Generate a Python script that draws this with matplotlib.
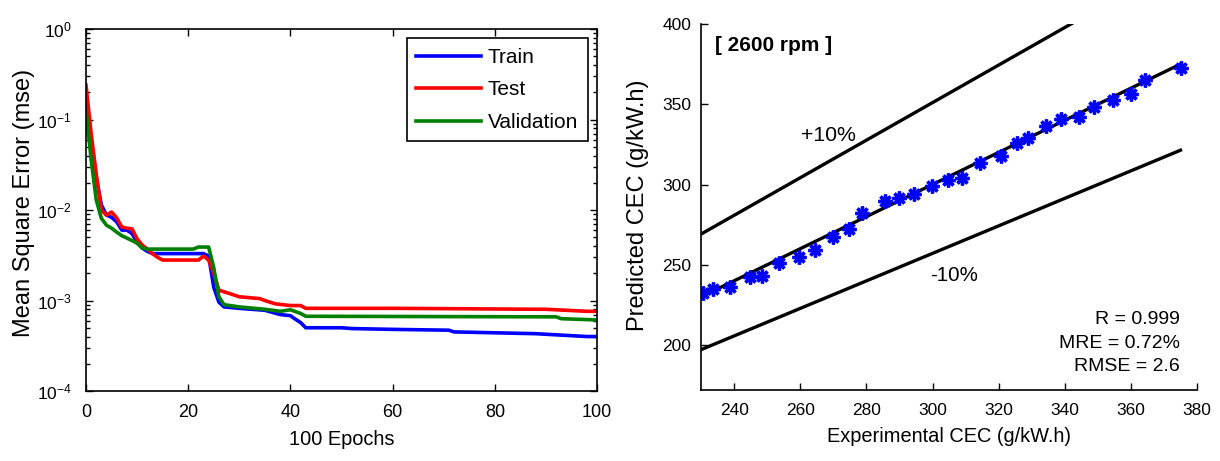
import matplotlib
matplotlib.use('Agg')
import matplotlib.pyplot as plt
import numpy as np

# training performance curves
train_epochs = [0, 1, 2, 3, 4, 5, 6, 7, 8, 9, 10, 11, 12, 13, 23, 24, 25, 26, 27, 30, 35, 38, 40, 41, 42, 43, 50, 52, 60, 71, 72, 80, 88, 98, 100]
train_mse = [0.2, 0.06, 0.023, 0.0114, 0.0088, 0.0083, 0.0074, 0.006, 0.006, 0.0055, 0.0044, 0.0038, 0.0035, 0.0033, 0.0033, 0.0031,
             0.0014, 0.00096, 0.00085, 0.00082, 0.00078, 0.0007, 0.00068, 0.00062, 0.00057, 0.0005, 0.0005, 0.00049, 0.00048,
             0.00047, 0.00045, 0.00044, 0.00043, 0.0004, 0.0004]

test_epochs = [0, 1, 2, 3, 4, 5, 6, 7, 8, 9, 10, 11, 12, 13, 14, 15, 22, 23, 24, 25, 26, 28, 30, 34, 35, 37, 40, 42, 43, 60, 90, 98, 100]
test_mse = [0.24, 0.07, 0.025, 0.01, 0.0088, 0.0095, 0.0082, 0.0065, 0.0063, 0.0062, 0.0048, 0.0041, 0.0037, 0.0033, 0.003,
            0.0028, 0.0028, 0.0031, 0.0028, 0.002, 0.0013, 0.0012, 0.0011, 0.00105, 0.001, 0.00092, 0.00088, 0.00088, 0.00082,
            0.00082, 0.0008, 0.00076, 0.00076]

val_epochs = [0, 1, 2, 3, 4, 5, 6, 7, 8, 9, 10, 11, 12, 21, 22, 24, 25, 26, 27, 30, 35, 38, 40, 42, 43, 92, 93, 100]
val_mse = [0.13, 0.036, 0.013, 0.0081, 0.0068, 0.0063, 0.0057, 0.0052, 0.0049, 0.0046, 0.0043, 0.0038, 0.0037, 0.0037, 0.0039,
           0.0039, 0.0023, 0.0011, 0.0009, 0.00085, 0.0008, 0.00076, 0.00079, 0.00072, 0.00067, 0.00066, 0.00063, 0.00061]

# experimental vs predicted CEC at 2600 rpm
exp_cec = [230.6, 233.6, 238.8, 244.8, 248.5, 253.6, 259.7, 264.5, 270.0, 274.8, 278.8, 285.5, 290.0, 294.5, 299.7,
           304.8, 308.8, 314.5, 320.6, 325.5, 329.0, 334.2, 339.0, 344.2, 348.8, 354.5, 360.0, 364.2, 375.2]
pred_cec = [232.5, 235.0, 236.2, 242.4, 243.0, 251.0, 254.8, 259.0, 267.2, 272.1, 282.0, 290.0, 291.3, 294.4, 298.8,
            303.1, 304.3, 313.6, 318.0, 326.0, 329.1, 336.5, 340.9, 342.0, 348.3, 352.6, 356.3, 365.0, 372.4]
line_x = [230, 375]
upper_ratio = 1.17
lower_ratio = 0.857
stats_text = 'R = 0.999\nMRE = 0.72%\nRMSE = 2.6'

plt.rcParams['font.family'] = ['Liberation Sans', 'DejaVu Sans']
plt.rcParams['mathtext.fontset'] = 'custom'
plt.rcParams['mathtext.rm'] = 'Liberation Sans'
plt.rcParams['axes.linewidth'] = 1.2

fig = plt.figure(figsize=(12.2, 4.61), dpi=100)

#left panel: performance
ax1 = fig.add_axes([0.0705, 0.1518, 0.4189, 0.7852])
ax1.semilogy(train_epochs, train_mse, '-', color='#0000ff', lw=2.6, label='Train')
ax1.semilogy(test_epochs, test_mse, '-', color='#ff0000', lw=2.6, label='Test')
ax1.semilogy(val_epochs, val_mse, '-', color='#008000', lw=2.6, label='Validation')
ax1.set_xlim(0, 100)
ax1.set_ylim(1e-4, 1)
ax1.set_xticks([0, 20, 40, 60, 80, 100])
ax1.tick_params(which='both', direction='in', top=True, right=True, width=1)
ax1.tick_params(which='major', length=5)
ax1.tick_params(which='minor', length=3)
ax1.tick_params(axis='x', labelsize=13, pad=9)
ax1.tick_params(axis='y', labelsize=12.5, pad=10)
ax1.set_xlabel('100 Epochs', fontsize=14.4, labelpad=7)
ax1.set_ylabel('Mean Square Error (mse)', fontsize=17)
ax1.yaxis.set_label_coords(-0.1, 0.52)
leg = ax1.legend(loc='upper right', fontsize=15, fancybox=False, edgecolor='black', framealpha=1,
                 handlelength=3.1, handletextpad=0.35, labelspacing=0.65, borderaxespad=0.45, borderpad=0.45)
leg.get_frame().set_linewidth(1.2)

#right panel: experimental vs predicted
ax2 = fig.add_axes([0.5746, 0.154, 0.4066, 0.794])
lx = np.array(line_x, dtype=float)
ax2.plot(lx, lx, '-', color='black', lw=2.4)
ax2.plot(lx, upper_ratio * lx, '-', color='black', lw=2.4)
ax2.plot(lx, lower_ratio * lx, '-', color='black', lw=2.4)
ax2.plot(exp_cec, pred_cec, linestyle='none', marker=(8, 2, 0), ms=10, mew=2.4, color='#0000ff')
ax2.set_xlim(230, 380)
ax2.set_ylim(172, 400)
ax2.set_xticks(range(240, 381, 20))
ax2.set_yticks(range(200, 401, 50))
ax2.spines['top'].set_visible(False)
ax2.spines['right'].set_visible(False)
ax2.tick_params(direction='in', labelsize=12.5, length=5, width=1)
ax2.tick_params(axis='x', pad=9)
ax2.tick_params(axis='y', pad=7)
ax2.set_xlabel('Experimental CEC (g/kW.h)', fontsize=14.4, labelpad=7)
ax2.set_ylabel('Predicted CEC (g/kW.h)', fontsize=17)
ax2.yaxis.set_label_coords(-0.105, 0.505)

ax2.text(234.2, 386.9, '[ 2600 rpm ]', fontsize=15, fontweight='bold', ha='left', va='center')
ax2.text(268.4, 330.8, '+10%', fontsize=15.3, ha='center', va='center')
ax2.text(306.5, 243.6, '-10%', fontsize=14.8, ha='center', va='center')
ax2.text(0.966, 0.128, stats_text, transform=ax2.transAxes, fontsize=14, ha='right', va='center',
         multialignment='right', linespacing=1.5)

plt.savefig('out.png', dpi=100)
